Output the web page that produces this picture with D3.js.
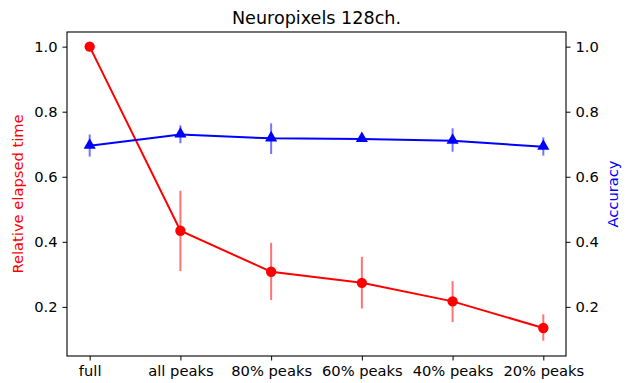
<!DOCTYPE html>
<html>
<head>
<meta charset="utf-8">
<script src="https://cdn.jsdelivr.net/npm/d3@7"></script>
<style>
  body { margin: 0; background: #fff; }
  svg text { font-family: "DejaVu Sans", sans-serif; }
</style>
</head>
<body>
<div id="chart"></div>
<script>
// categories on the x axis
const conditions = ["full", "all peaks", "80% peaks", "60% peaks", "40% peaks", "20% peaks"];

// relative elapsed time (left axis, red)
const timeMean = [1.0, 0.434, 0.308, 0.274, 0.217, 0.135];
const timeErrLow = [1.0, 0.310, 0.221, 0.195, 0.153, 0.096];
const timeErrHigh = [1.0, 0.557, 0.397, 0.354, 0.279, 0.177];

// accuracy (right axis, blue)
const accMean = [0.695, 0.730, 0.718, 0.716, 0.711, 0.692];
const accErrLow = [0.662, 0.703, 0.670, 0.710, 0.677, 0.665];
const accErrHigh = [0.730, 0.758, 0.764, 0.722, 0.749, 0.721];

const yTicks = [0.2, 0.4, 0.6, 0.8, 1.0];

class TwinChart {
  constructor(_config) {
    this.config = {
      parentElement: _config.parentElement,
      width: 633,
      height: 383,
      margin: { top: 32, right: 67, bottom: 27, left: 67 },
    };
    this.initVis();
  }

  initVis() {
    let vis = this;
    const m = vis.config.margin;
    vis.w = vis.config.width - m.left - m.right;
    vis.h = vis.config.height - m.top - m.bottom;

    vis.svg = d3
      .select(vis.config.parentElement)
      .append("svg")
      .attr("width", vis.config.width)
      .attr("height", vis.config.height);

    vis.g = vis.svg.append("g").attr("transform", `translate(${m.left},${m.top})`);

    vis.x = d3.scaleLinear().domain([-0.25, 5.25]).range([0, vis.w]);
    // both y axes end up on the same range
    vis.yLeft = d3.scaleLinear().domain([0.049, 1.045]).range([vis.h, 0]);
    vis.yRight = d3.scaleLinear().domain([0.049, 1.045]).range([vis.h, 0]);

    vis.title = vis.svg
      .append("text")
      .attr("x", m.left + vis.w / 2)
      .attr("y", 24)
      .attr("text-anchor", "middle")
      .attr("font-size", 17.6)
      .text("Neuropixels 128ch.");

    vis.renderVis();
  }

  drawSeries(mean, lo, hi, yScale, color, marker) {
    let vis = this;
    const idx = d3.range(mean.length);

    //error bars first, half transparent
    vis.g
      .append("g")
      .selectAll("line")
      .data(idx.filter((i) => hi[i] - lo[i] > 0))
      .join("line")
      .attr("x1", (i) => vis.x(i))
      .attr("x2", (i) => vis.x(i))
      .attr("y1", (i) => yScale(lo[i]))
      .attr("y2", (i) => yScale(hi[i]))
      .attr("stroke", color)
      .attr("stroke-opacity", 0.55)
      .attr("stroke-width", 2);

    const line = d3
      .line()
      .x((i) => vis.x(i))
      .y((i) => yScale(mean[i]));

    vis.g
      .append("path")
      .datum(idx)
      .attr("d", line)
      .attr("fill", "none")
      .attr("stroke", color)
      .attr("stroke-width", 2);

    const sym = d3.symbol().type(marker === "circle" ? d3.symbolCircle : d3.symbolTriangle)
      .size(marker === "circle" ? 84 : 64);

    vis.g
      .append("g")
      .selectAll("path")
      .data(idx)
      .join("path")
      .attr("transform", (i) => `translate(${vis.x(i)},${yScale(mean[i]) + (marker === "circle" ? 0 : -0.5)})`)
      .attr("d", sym)
      .attr("fill", color);
  }

  renderVis() {
    let vis = this;
    const m = vis.config.margin;

    vis.drawSeries(timeMean, timeErrLow, timeErrHigh, vis.yLeft, "#ff0000", "circle");
    vis.drawSeries(accMean, accErrLow, accErrHigh, vis.yRight, "#0000ff", "triangle");

    // axes
    const xAxis = d3
      .axisBottom(vis.x)
      .tickValues(d3.range(conditions.length))
      .tickFormat((i) => conditions[i])
      .tickSize(4.5)
      .tickPadding(5);
    const yAxisL = d3.axisLeft(vis.yLeft).tickValues(yTicks).tickFormat(d3.format(".1f")).tickSize(4.5).tickPadding(5);
    const yAxisR = d3.axisRight(vis.yRight).tickValues(yTicks).tickFormat(d3.format(".1f")).tickSize(4.5).tickPadding(5);

    const gx = vis.g.append("g").attr("transform", `translate(0,${vis.h})`).call(xAxis);
    const gl = vis.g.append("g").call(yAxisL);
    const gr = vis.g.append("g").attr("transform", `translate(${vis.w},0)`).call(yAxisR);

    [gx, gl, gr].forEach((ax) => {
      ax.select(".domain").remove();
      ax.selectAll(".tick line").attr("stroke", "#000").attr("stroke-width", 1);
      ax.selectAll(".tick text")
        .attr("fill", "#000")
        .attr("font-size", 14.7)
        .attr("font-family", "DejaVu Sans, sans-serif");
    });

    // frame
    vis.g
      .append("rect")
      .attr("x", 0)
      .attr("y", 0)
      .attr("width", vis.w)
      .attr("height", vis.h)
      .attr("fill", "none")
      .attr("stroke", "#000")
      .attr("stroke-width", 1.1);

    // axis labels
    const cy = m.top + vis.h / 2;
    vis.svg
      .append("text")
      .attr("transform", `translate(23,${cy}) rotate(-90)`)
      .attr("text-anchor", "middle")
      .attr("font-size", 14.7)
      .attr("fill", "#ff0000")
      .text("Relative elapsed time");

    vis.svg
      .append("text")
      .attr("transform", `translate(618,${cy}) rotate(-90)`)
      .attr("text-anchor", "middle")
      .attr("font-size", 14.7)
      .attr("fill", "#0000ff")
      .text("Accuracy");
  }
}

const chart = new TwinChart({ parentElement: "#chart" });
</script>
</body>
</html>
